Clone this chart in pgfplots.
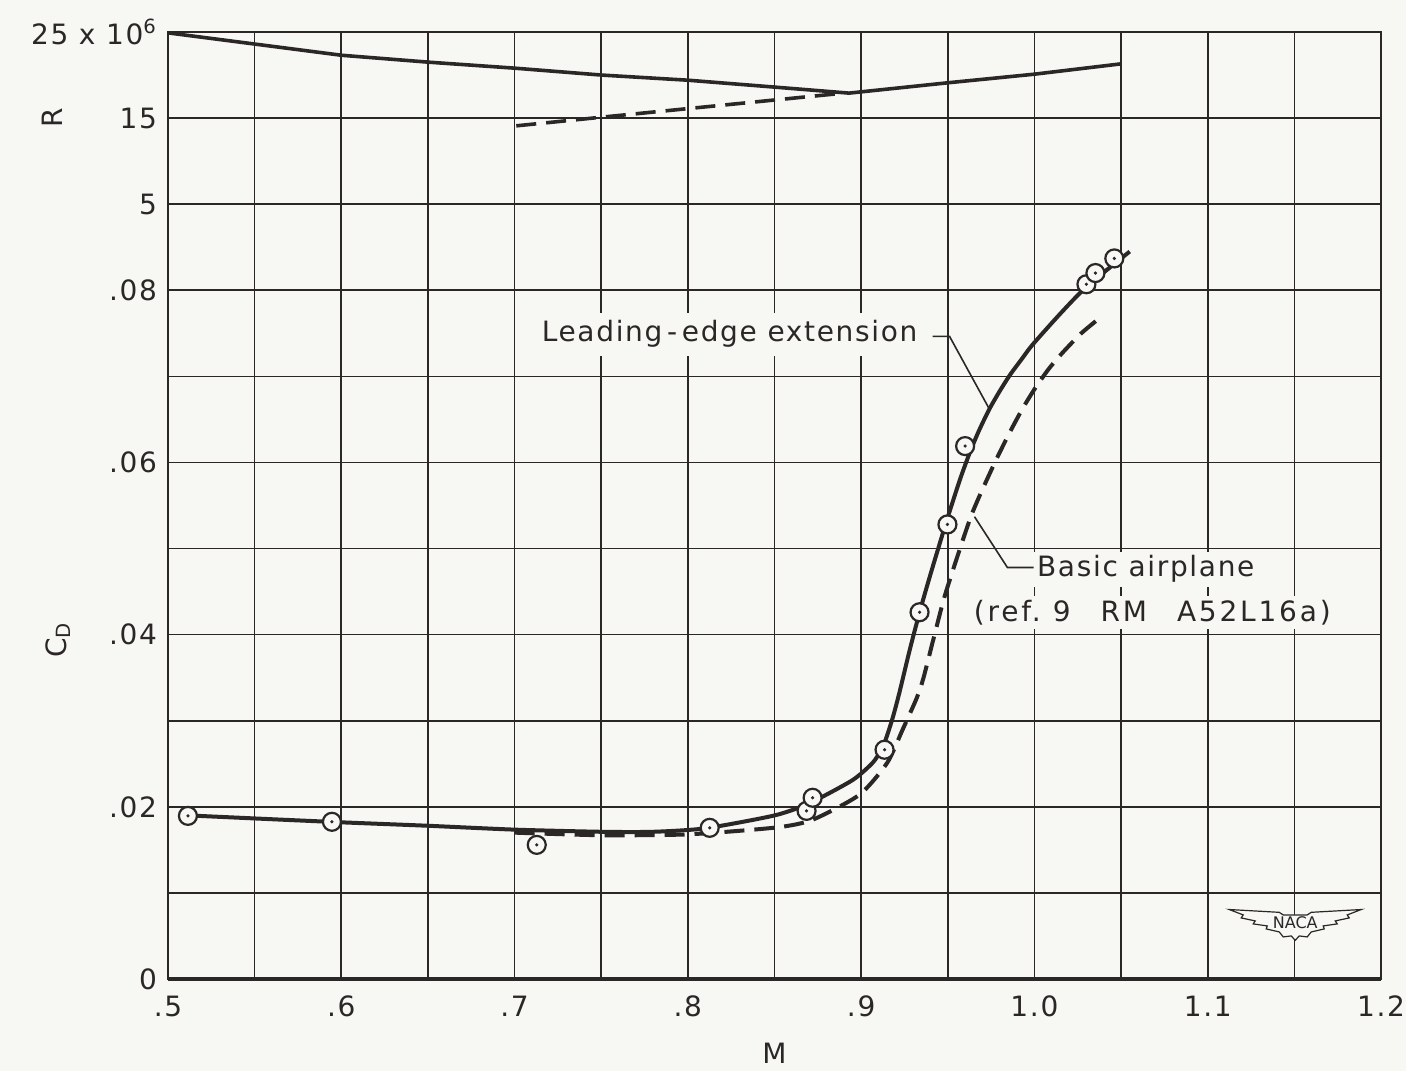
\documentclass[border=0pt]{standalone}
\usepackage{pgfplots}
\pgfplotsset{compat=1.18}
\usepackage{pgfplotstable}
\usepackage{fontspec}
\setmainfont{DejaVu Sans}
\newfontfamily\lettering[LetterSpace=6]{DejaVu Sans}
\newfontfamily\wideletter[LetterSpace=10]{DejaVu Sans}
\definecolor{ink}{HTML}{2B2727}
\definecolor{paper}{HTML}{F7F7F4}

% Reynolds number (millions) -- top scale
\pgfplotstableread{
M R
0.500 24.9
0.550 23.6
0.600 22.3
0.650 21.5
0.700 20.8
0.750 20.0
0.800 19.4
0.850 18.6
0.893 17.9
0.950 19.1
1.000 20.1
1.050 21.3
}\Rext
\pgfplotstableread{
M R
0.701 14.1
0.750 15.1
0.800 16.1
0.850 17.1
0.890 17.9
}\Rbasic

% C_D, leading-edge extension (faired curve)
\pgfplotstableread{
M CD
0.512 0.0190
0.550 0.01865
0.600 0.0182
0.650 0.0178
0.700 0.01735
0.750 0.0171
0.780 0.0171
0.810 0.0175
0.850 0.0190
0.870 0.0204
0.895 0.0231
0.907 0.0252
0.913 0.0272
0.918 0.0302
0.922 0.0332
0.928 0.0382
0.934 0.0428
0.940 0.0470
0.949 0.0530
0.957 0.0580
0.963 0.0613
0.968 0.0637
0.974 0.0662
0.980 0.0683
0.986 0.0702
0.993 0.0721
0.999 0.0737
1.015 0.0773
1.030 0.0804
1.055 0.0845
}\CDext
% test points
\pgfplotstableread{
M CD
0.5115 0.01895
0.5946 0.01826
0.7128 0.01558
0.8126 0.01756
0.8685 0.01953
0.8720 0.02105
0.9135 0.02663
0.9337 0.04260
0.9498 0.05280
0.9600 0.06190
1.0300 0.08070
1.0352 0.08200
1.0461 0.08370
}\CDpts
% basic airplane
\pgfplotstableread{
M CD
0.700 0.0170
0.750 0.0167
0.800 0.0168
0.851 0.0176
0.872 0.0185
0.899 0.0214
0.915 0.0251
0.924 0.0290
0.932 0.0326
0.936 0.0350
0.943 0.0405
0.949 0.0450
0.9635 0.0538
0.976 0.0595
0.985 0.0632
0.993 0.0662
1.000 0.0685
1.008 0.0708
1.016 0.0727
1.027 0.0750
1.039 0.0770
}\CDbasic

\begin{document}
\begin{tikzpicture}[font=\fontsize{14}{16}\selectfont\lettering]
\fill[paper] (-84pt,-46pt) rectangle (619pt,489.5pt);
\begin{axis}[
  scale only axis, width=606.5pt, height=473.5pt,
  xmin=0.5, xmax=1.2, ymin=0, ymax=0.11,
  xtick={0.5,0.6,0.7,0.8,0.9,1.0,1.1,1.2},
  xticklabels={.5,.6,.7,.8,.9,1.0,1.1,1.2},
  minor xtick={0.55,0.65,0.75,0.85,0.95,1.05,1.15},
  ytick={0,0.02,0.04,0.06,0.08,0.09,0.10,0.11},
  yticklabels={0,.02,.04,.06,.08,5,15,{25 x 10\textsuperscript{6}}},
  minor ytick={0.01,0.03,0.05,0.07},
  grid=both,
  major grid style={ink, line width=0.8pt},
  minor grid style={ink, line width=0.8pt},
  major tick length=0pt, minor tick length=0pt,
  axis line style={ink, line width=0.9pt},
  tick label style={text=ink, font=\fontsize{14}{16}\selectfont\lettering},
  yticklabel style={xshift=-2pt},
  xticklabel style={yshift=-5pt},
  clip=false,
]
% Reynolds number
\addplot[ink, line width=1.8pt] table[x=M, y expr={0.09+(\thisrow{R}-5)/1000}] {\Rext};
\addplot[ink, line width=1.8pt, dash pattern=on 10pt off 5pt] table[x=M, y expr={0.09+(\thisrow{R}-5)/1000}] {\Rbasic};
% drag
\addplot[ink, line width=2pt, dash pattern=on 10pt off 5pt, smooth, tension=0.4] table[x=M, y=CD] {\CDbasic};
\addplot[ink, line width=2pt, smooth, tension=0.4] table[x=M, y=CD] {\CDext};
\addplot[only marks, mark=*, mark size=4.5pt, mark options={fill=paper, draw=ink, line width=1.1pt}] table[x=M, y=CD] {\CDpts};
\addplot[only marks, mark=*, mark size=0.6pt, mark options={fill=ink, draw=ink}] table[x=M, y=CD] {\CDpts};
% heavier base line
\draw[ink, line width=1.8pt] (axis cs:0.5,0) -- (axis cs:1.2,0);
% labels
\node[fill=paper, inner sep=4pt, text=ink] at (axis cs:0.8241,0.0749) {Leading\,-\,edge extension};
\draw[ink, line width=0.8pt] (axis cs:0.9412,0.07465) -- (axis cs:0.951,0.07465) -- (axis cs:0.974,0.0662);
\node[fill=paper, inner sep=2pt, anchor=west, text=ink] at (axis cs:0.999,0.0476) {Basic airplane};
\node[fill=paper, inner sep=2pt, anchor=west, text=ink, font=\fontsize{14}{16}\selectfont\wideletter] at (axis cs:0.9625,0.0426) {(ref.\hspace{6pt}9\hspace{15pt}RM\hspace{15pt}A52L16a)};
\draw[ink, line width=0.8pt] (axis cs:0.9654,0.0537) -- (axis cs:0.9844,0.0478) -- (axis cs:0.9995,0.0478);
\node[rotate=90, text=ink] at ([xshift=-58pt]axis cs:0.5,0.10) {R};
\node[rotate=90, text=ink] at ([xshift=-55pt]axis cs:0.5,0.0394) {C\textsubscript{D}};
\node[text=ink] at ([yshift=-37pt]axis cs:0.85,0) {M};
\coordinate (naca) at (axis cs:1.1505,0.00663);
\end{axis}
\begin{scope}[shift={(naca)}, x=1pt, y=1pt]
\draw[ink, line width=0.6pt, fill=paper] (-33,6.2) -- (-8,4.8) -- (-6,3.5) -- (6,3.5) -- (8,4.8) -- (33,6.2) -- (26,3.5) -- (27,2) -- (20,0.5) -- (21,-1) -- (14,-2) -- (14.5,-3.5) -- (8,-5) -- (6,-7.5) -- (2,-7) -- (0,-9.2) -- (-2,-7) -- (-6,-7.5) -- (-8,-5) -- (-14.5,-3.5) -- (-14,-2) -- (-21,-1) -- (-20,0.5) -- (-27,2) -- (-26,3.5) -- cycle;
\node[text=ink, font=\fontsize{8}{9}\selectfont] at (0,-0.5) {NACA};
\end{scope}
\pgfresetboundingbox
\path[use as bounding box] (-84pt,-46pt) rectangle (619pt,489.5pt);
\end{tikzpicture}
\end{document}
